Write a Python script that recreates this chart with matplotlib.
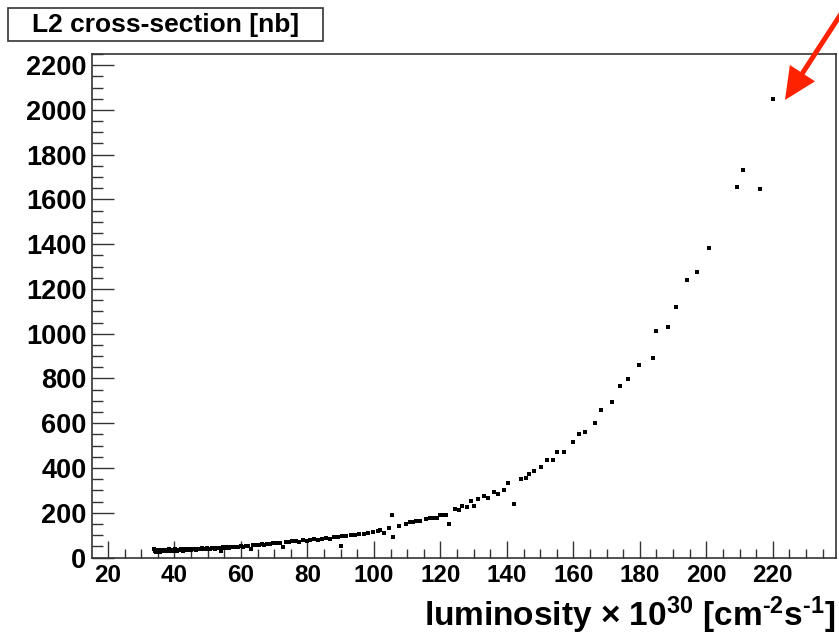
import matplotlib
matplotlib.use("Agg")
import matplotlib.pyplot as plt
from matplotlib.patches import Rectangle, FancyArrow
from matplotlib.ticker import MultipleLocator

plt.rcParams['font.family'] = ['Liberation Sans', 'DejaVu Sans']
plt.rcParams['font.weight'] = 'bold'
plt.rcParams['mathtext.fontset'] = 'custom'
plt.rcParams['mathtext.rm'] = 'Liberation Sans:bold'
plt.rcParams['mathtext.bf'] = 'Liberation Sans:bold'
plt.rcParams['mathtext.it'] = 'Liberation Sans'

# luminosity (x 10^30 cm^-2 s^-1) and L2 cross-section (nb)
lumi = [33.8, 34.0, 34.3, 34.5, 34.8, 35.0, 35.3, 35.6, 35.9, 36.2,
        36.5, 36.8, 37.1, 37.4, 37.8, 38.1, 38.4, 38.8, 39.1, 39.5,
        39.8, 40.2, 40.5, 40.9, 41.2, 41.6, 42.0, 42.3, 42.7, 43.1,
        43.5, 43.9, 44.3, 44.7, 45.1, 45.6, 46.0, 46.4, 46.9, 47.3,
        47.8, 48.2, 48.7, 49.2, 49.7, 50.2, 50.7, 51.2, 51.8, 52.3,
        52.9, 53.5, 54.0, 54.6, 55.2, 55.9, 56.5, 57.1, 57.8, 58.5,
        59.2, 59.9, 60.6, 61.4, 62.1, 62.9, 63.7, 64.5, 65.3, 66.2,
        67.0, 67.9, 68.8, 69.7, 70.6, 71.6, 72.5, 73.5, 74.5, 75.5,
        76.6, 77.6, 78.7, 79.8, 80.9, 82.0, 83.2, 84.3, 85.5, 86.7,
        87.9, 89.1, 90.1, 90.4, 91.7, 93.0, 94.3, 95.6, 96.9, 98.3,
        99.7, 101.1, 101.8, 103.0, 104.5, 105.3, 105.6, 107.6, 109.6, 110.8,
        111.8, 112.8, 113.8, 115.6, 117.0, 118.0, 119.0, 120.0, 121.0, 121.6,
        122.6, 124.4, 125.7, 126.6, 128.1, 129.3, 130.1, 131.3, 133.1, 134.2,
        136.2, 137.2, 139.0, 140.2, 142.0, 144.2, 145.7, 146.7, 148.2, 150.4,
        152.0, 154.0, 155.2, 157.2, 160.0, 161.6, 163.6, 166.4, 168.4, 171.6,
        174.0, 176.4, 179.6, 184.0, 184.8, 188.4, 190.9, 194.1, 197.2, 200.8,
        209.3, 210.9, 216.1, 220.1]
xsec = [40, 27, 33, 24, 31, 29, 35, 26, 32, 30,
        28, 34, 31, 27, 33, 30, 36, 29, 32, 34,
        31, 37, 33, 30, 35, 32, 36, 34, 31, 37,
        35, 33, 38, 36, 34, 39, 37, 35, 40, 38,
        36, 41, 39, 37, 42, 40, 38, 43, 41, 36,
        44, 42, 31, 45, 43, 46, 44, 48, 46, 49,
        47, 51, 49, 53, 51, 40, 55, 57, 55, 59,
        57, 61, 59, 63, 65, 63, 48, 70, 68, 72,
        74, 71, 77, 75, 79, 81, 79, 84, 86, 84,
        90, 92, 51, 95, 97, 99, 102, 104, 106, 110,
        113, 117, 125, 108, 131, 190, 93, 143, 150, 158,
        160, 161, 162, 170, 175, 177, 178, 188, 189, 190,
        152, 219, 213, 232, 225, 253, 231, 260, 274, 264,
        291, 283, 301, 331, 237, 349, 357, 374, 385, 404,
        434, 434, 470, 470, 517, 553, 559, 601, 660, 696,
        767, 797, 862, 892, 1012, 1029, 1119, 1239, 1275, 1382,
        1655, 1732, 1648, 2050]

fig = plt.figure(figsize=(8.39, 6.35), dpi=100)
ax = fig.add_axes([0.1097, 0.122, 0.8867, 0.793])

ax.plot(lumi, xsec, 's', ls='none', color='black', ms=3.4, mew=0)

ax.set_xlim(15.2, 239)
ax.set_ylim(0, 2250)
ax.xaxis.set_major_locator(MultipleLocator(20))
ax.xaxis.set_minor_locator(MultipleLocator(5))
ax.yaxis.set_major_locator(MultipleLocator(200))
ax.yaxis.set_minor_locator(MultipleLocator(50))
ax.set_xticks([20, 40, 60, 80, 100, 120, 140, 160, 180, 200, 220])

for s in ax.spines.values():
    s.set_linewidth(1.2)
    s.set_color('#333333')

ax.tick_params(axis='x', which='major', direction='in', length=12, width=1.0,
               labelsize=17.5, pad=5, color='#333333')
ax.tick_params(axis='x', which='minor', direction='in', length=6.5, width=1.0,
               color='#333333')
ax.tick_params(axis='y', which='major', direction='in', length=15.5, width=1.0,
               labelsize=19.5, pad=4, color='#333333')
ax.tick_params(axis='y', which='minor', direction='in', length=8, width=1.0,
               color='#333333')
for lab in ax.get_xticklabels() + ax.get_yticklabels():
    lab.set_fontweight('bold')

fig.text(0.9964, 0.014,
         'luminosity $\\mathit{\u00d7}$ 10$^{30}$ [cm$^{\u20102}$s$^{\u20101}$]',
         ha='right', va='baseline', fontsize=24, fontweight='bold')

# title box
W, H = 839, 635
fig.add_artist(Rectangle((8 / W, 1 - 41 / H), 315 / W, 33 / H,
                         transform=fig.transFigure, fill=False,
                         edgecolor='#333333', linewidth=1.2))
fig.text(165.5 / W, 1 - 25 / H, 'L2 cross-section [nb]', ha='center',
         va='center', fontsize=19, fontweight='bold')

# red arrow pointing at the highest point
over = fig.add_axes([0, 0, 1, 1], facecolor='none')
over.set_xlim(0, W)
over.set_ylim(H, 0)
over.axis('off')
over.add_patch(FancyArrow(850, 0, -65, 100, width=5, head_width=30,
                          head_length=32, length_includes_head=True,
                          color='#ff2200', lw=0))

fig.savefig('out.png', dpi=100)
